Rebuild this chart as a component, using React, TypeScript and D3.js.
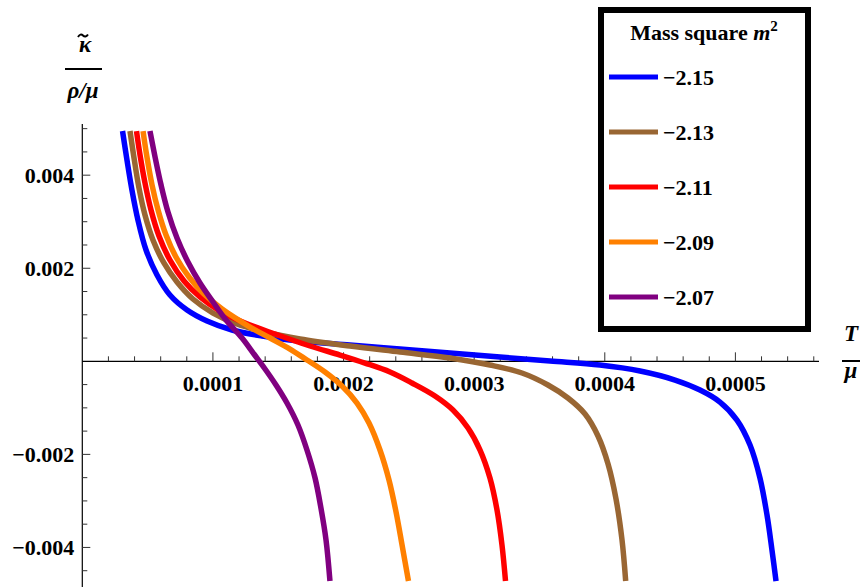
import React from "react";
import * as d3 from "d3";

// Data (T/μ in units of 1e-4, κ̃/(ρ/μ) in units of 1e-3)
const SERIES_LABELS = ["−2.15", "−2.13", "−2.11", "−2.09", "−2.07"];
const SERIES_COLORS = ["#0000FF", "#996633", "#FF0000", "#FF8000", "#800080"];

const T_BLUE = [0.308, 0.342, 0.38, 0.426, 0.488, 0.572, 0.671, 0.802, 0.955, 1.146, 1.376, 1.667, 2.049, 2.432, 2.815, 3.198, 3.581, 3.963, 4.27, 4.538, 4.729, 4.882, 5.012, 5.112, 5.188, 5.242, 5.28, 5.311];
const K_BLUE = [4.949, 4.326, 3.682, 3.037, 2.392, 1.855, 1.425, 1.103, 0.866, 0.673, 0.544, 0.436, 0.35, 0.264, 0.178, 0.092, 0.006, -0.08, -0.208, -0.402, -0.617, -0.875, -1.262, -1.799, -2.508, -3.303, -4.055, -4.722];

const T_BROWN = [0.365, 0.396, 0.434, 0.48, 0.541, 0.625, 0.725, 0.847, 1.001, 1.184, 1.399, 1.667, 2.049, 2.432, 2.815, 3.121, 3.366, 3.565, 3.718, 3.849, 3.948, 4.025, 4.086, 4.132, 4.16];
const K_BROWN = [4.949, 4.369, 3.725, 3.144, 2.607, 2.113, 1.704, 1.339, 1.038, 0.802, 0.63, 0.479, 0.329, 0.2, 0.071, -0.08, -0.251, -0.509, -0.789, -1.133, -1.605, -2.207, -2.959, -3.841, -4.722];

const T_RED = [0.415, 0.442, 0.48, 0.526, 0.587, 0.671, 0.779, 0.901, 1.054, 1.246, 1.475, 1.743, 1.973, 2.164, 2.356, 2.524, 2.7, 2.838, 2.953, 3.045, 3.121, 3.175, 3.213, 3.24];
const K_RED = [4.949, 4.434, 3.832, 3.252, 2.693, 2.177, 1.726, 1.382, 1.081, 0.823, 0.587, 0.329, 0.135, -0.037, -0.23, -0.466, -0.746, -1.047, -1.433, -1.906, -2.508, -3.196, -3.948, -4.722];

const T_ORANGE = [0.465, 0.495, 0.534, 0.58, 0.641, 0.717, 0.817, 0.932, 1.07, 1.284, 1.437, 1.59, 1.72, 1.858, 1.988, 2.103, 2.195, 2.279, 2.348, 2.402, 2.448, 2.497];
const K_ORANGE = [4.949, 4.391, 3.789, 3.252, 2.714, 2.242, 1.812, 1.446, 1.124, 0.737, 0.501, 0.264, 0.028, -0.23, -0.531, -0.896, -1.326, -1.906, -2.551, -3.239, -3.948, -4.722];

const T_PURPLE = [0.518, 0.557, 0.603, 0.656, 0.725, 0.809, 0.901, 1.001, 1.1, 1.223, 1.314, 1.399, 1.483, 1.567, 1.651, 1.72, 1.782, 1.827, 1.866, 1.896];
const K_PURPLE = [4.949, 4.391, 3.789, 3.209, 2.65, 2.134, 1.683, 1.274, 0.888, 0.501, 0.157, -0.165, -0.509, -0.896, -1.369, -1.906, -2.508, -3.153, -3.841, -4.722];

const T_SCALE = 1e-4;
const K_SCALE = 1e-3;

const X_TICKS = [0.0001, 0.0002, 0.0003, 0.0004, 0.0005];
const X_TICK_LABELS = ["0.0001", "0.0002", "0.0003", "0.0004", "0.0005"];
const Y_TICKS = [0.004, 0.002, -0.002, -0.004];
const Y_TICK_LABELS = ["0.004", "0.002", "−0.002", "−0.004"];

const W = 861;
const H = 587;
const FONT = "Liberation Serif, Times New Roman, serif";

export default function App() {
  const x = d3.scaleLinear().domain([0, 0.000564]).range([82.3, 819]);
  const y = d3.scaleLinear().domain([-0.00485, 0.0051]).range([587, 124]);

  const series = [
    [T_BLUE, K_BLUE],
    [T_BROWN, K_BROWN],
    [T_RED, K_RED],
    [T_ORANGE, K_ORANGE],
    [T_PURPLE, K_PURPLE],
  ].map(([ts, ks]) => ts.map((t, i) => [t * T_SCALE, ks[i] * K_SCALE] as [number, number]));

  const line = d3
    .line<[number, number]>()
    .x((d) => x(d[0]))
    .y((d) => y(d[1]))
    .curve(d3.curveCatmullRom.alpha(0.5));

  const xMinor = d3.range(1, 29).map((i) => i * 0.00002);
  const yMinor = d3.range(-9, 11).map((i) => i * 0.0005).filter((v) => Math.abs(v) > 1e-9);

  const x0 = x(0);
  const y0 = y(0);

  const legendY = [77, 132, 187, 242, 297];
  const txt = { fontFamily: FONT };

  return (
    <svg
      width={W}
      height={H}
      style={{ position: "absolute", left: 0, top: 0, background: "#fff" }}
    >
      <rect x={0} y={0} width={W} height={H} fill="#fff" />
      {/* axes */}
      <line x1={x0} x2={819} y1={y0} y2={y0} stroke="#000" strokeWidth={1.2} />
      <line x1={x0} x2={x0} y1={124} y2={H} stroke="#000" strokeWidth={1.2} />
      {xMinor.map((v, i) => {
        const major = X_TICKS.some((t) => Math.abs(t - v) < 1e-9);
        return (
          <line
            key={"xt" + i}
            x1={x(v)}
            x2={x(v)}
            y1={y0}
            y2={y0 - (major ? 9 : 5)}
            stroke="#333"
            strokeWidth={1}
          />
        );
      })}
      {yMinor.map((v, i) => {
        const major = Y_TICKS.some((t) => Math.abs(t - v) < 1e-9);
        return (
          <line
            key={"yt" + i}
            x1={x0}
            x2={x0 + (major ? 8 : 5)}
            y1={y(v)}
            y2={y(v)}
            stroke="#333"
            strokeWidth={1}
          />
        );
      })}
      {X_TICKS.map((v, i) => (
        <text
          key={"xl" + i}
          x={x(v)}
          y={y0 + 30}
          textAnchor="middle"
          fontSize={22}
          fontWeight="bold"
          style={txt}
        >
          {X_TICK_LABELS[i]}
        </text>
      ))}
      {Y_TICKS.map((v, i) => (
        <text
          key={"yl" + i}
          x={x0 - 8}
          y={y(v) + 8}
          textAnchor="end"
          fontSize={22}
          fontWeight="bold"
          style={txt}
        >
          {Y_TICK_LABELS[i]}
        </text>
      ))}

      {/* curves */}
      {series.map((pts, i) => (
        <path
          key={"s" + i}
          d={line(pts) || ""}
          fill="none"
          stroke={SERIES_COLORS[i]}
          strokeWidth={5.5}
          strokeLinejoin="round"
        />
      ))}

      {/* y axis label */}
      <path d="M78,37 q2.5,-4 5,-1.5 t5,-1" fill="none" stroke="#000" strokeWidth={2} />
      <text x={85} y={52} textAnchor="middle" fontSize={23} fontWeight="bold" fontStyle="italic" style={txt}>
        κ
      </text>
      <line x1={65} x2={102} y1={69} y2={69} stroke="#000" strokeWidth={2} />
      <text x={83} y={98} textAnchor="middle" fontSize={23} fontWeight="bold" fontStyle="italic" style={txt}>
        ρ/μ
      </text>

      {/* x axis label */}
      <text x={851} y={341} textAnchor="middle" fontSize={23} fontWeight="bold" fontStyle="italic" style={txt}>
        T
      </text>
      <line x1={842} x2={860} y1={361} y2={361} stroke="#000" strokeWidth={2} />
      <text x={851} y={378} textAnchor="middle" fontSize={23} fontWeight="bold" fontStyle="italic" style={txt}>
        μ
      </text>

      {/* legend */}
      <rect x={601} y={10} width={207} height={319} fill="#fff" stroke="#000" strokeWidth={6} />
      <text x={704} y={40} textAnchor="middle" fontSize={22} fontWeight="bold" style={txt}>
        Mass square <tspan fontStyle="italic">m</tspan>
        <tspan dy={-9} fontSize={15}>2</tspan>
      </text>
      {SERIES_LABELS.map((lab, i) => (
        <g key={"lg" + i}>
          <line x1={609} x2={658} y1={legendY[i]} y2={legendY[i]} stroke={SERIES_COLORS[i]} strokeWidth={5} />
          <text x={663} y={legendY[i] + 8} fontSize={22} fontWeight="bold" style={txt}>
            {lab}
          </text>
        </g>
      ))}
    </svg>
  );
}
